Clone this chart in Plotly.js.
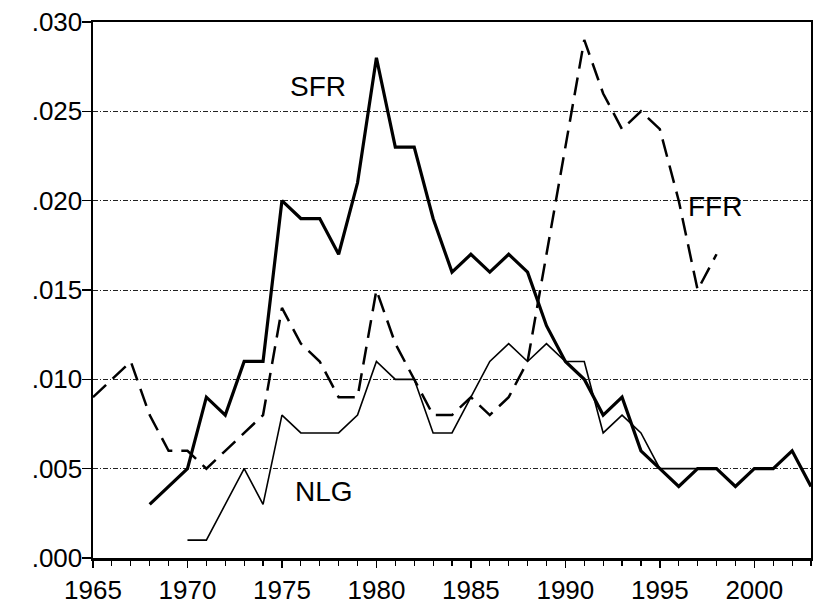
<!DOCTYPE html>
<html>
<head>
<meta charset="utf-8">
<script src="https://cdn.plot.ly/plotly-3.0.1.min.js"></script>
<style>html,body{margin:0;padding:0;background:#fff;}#chart{width:813px;height:605px;}</style>
</head>
<body>
<div id="chart"></div>
<script>
var sfrYears = [1968,1969,1970,1971,1972,1973,1974,1975,1976,1977,1978,1979,1980,1981,1982,1983,1984,1985,1986,1987,1988,1989,1990,1991,1992,1993,1994,1995,1996,1997,1998,1999,2000,2001,2002,2003];
var sfrValues = [0.003,0.004,0.005,0.009,0.008,0.011,0.011,0.020,0.019,0.019,0.017,0.021,0.028,0.023,0.023,0.019,0.016,0.017,0.016,0.017,0.016,0.013,0.011,0.010,0.008,0.009,0.006,0.005,0.004,0.005,0.005,0.004,0.005,0.005,0.006,0.004];

var nlgYears = [1970,1971,1972,1973,1974,1975,1976,1977,1978,1979,1980,1981,1982,1983,1984,1985,1986,1987,1988,1989,1990,1991,1992,1993,1994,1995,1996,1997,1998];
var nlgValues = [0.001,0.001,0.003,0.005,0.003,0.008,0.007,0.007,0.007,0.008,0.011,0.010,0.010,0.007,0.007,0.009,0.011,0.012,0.011,0.012,0.011,0.011,0.007,0.008,0.007,0.005,0.005,0.005,0.005];

var ffrYears = [1965,1966,1967,1968,1969,1970,1971,1972,1973,1974,1975,1976,1977,1978,1979,1980,1981,1982,1983,1984,1985,1986,1987,1988,1989,1990,1991,1992,1993,1994,1995,1996,1997,1998];
var ffrValues = [0.009,0.010,0.011,0.008,0.006,0.006,0.005,0.006,0.007,0.008,0.014,0.012,0.011,0.009,0.009,0.015,0.012,0.010,0.008,0.008,0.009,0.008,0.009,0.011,0.017,0.023,0.029,0.026,0.024,0.025,0.024,0.020,0.015,0.017];

var yTickVals = [0, 0.005, 0.010, 0.015, 0.020, 0.025, 0.030];
var yTickText = [".000", ".005", ".010", ".015", ".020", ".025", ".030"];
var xTickVals = [1965,1970,1975,1980,1985,1990,1995,2000];

var seriesLabels = ["SFR", "FFR", "NLG"];

var font = "Liberation Sans, Arial, Helvetica, sans-serif";

var traces = [
  {x: sfrYears, y: sfrValues, name: "SFR", type: "scatter", mode: "lines",
   line: {color: "#000", width: 3.2}},
  {x: nlgYears, y: nlgValues, name: "NLG", type: "scatter", mode: "lines",
   line: {color: "#000", width: 1.6}},
  {x: ffrYears, y: ffrValues, name: "FFR", type: "scatter", mode: "lines",
   line: {color: "#000", width: 2.5, dash: "18px,9px"}}
];

var layout = {
  width: 813, height: 605,
  margin: {l: 93, r: 2, t: 22, b: 47},
  paper_bgcolor: "#fff", plot_bgcolor: "#fff",
  showlegend: false,
  font: {family: font, size: 26, color: "#000"},
  xaxis: {
    range: [1965, 2003],
    tickvals: xTickVals,
    ticks: "outside", ticklen: 7, tickwidth: 1.5, tickcolor: "#000",
    minor: {dtick: 1, ticks: "outside", ticklen: 5, tickwidth: 1.2, tickcolor: "#000", showgrid: false},
    showgrid: false, zeroline: false,
    showline: true, linecolor: "#000", linewidth: 2.5, mirror: true,
    tickfont: {family: font, size: 26, color: "#000"}
  },
  yaxis: {
    range: [0, 0.030],
    tickvals: yTickVals, ticktext: yTickText,
    ticks: "outside", ticklen: 9, tickwidth: 1.5, tickcolor: "#000",
    ticklabelstandoff: -6,
    showgrid: true, gridcolor: "#222", gridwidth: 1, griddash: "5px,2px,1px,2px",
    zeroline: false,
    showline: true, linecolor: "#000", linewidth: 2.5, mirror: true,
    tickfont: {family: font, size: 26, color: "#000"}
  },
  annotations: [
    {x: 1976.9, y: 0.0264, xref: "x", yref: "y", text: seriesLabels[0], showarrow: false,
     font: {family: font, size: 28, color: "#000"}},
    {x: 1997.9, y: 0.0197, xref: "x", yref: "y", text: seriesLabels[1], showarrow: false,
     font: {family: font, size: 28, color: "#000"}},
    {x: 1977.2, y: 0.0037, xref: "x", yref: "y", text: seriesLabels[2], showarrow: false,
     font: {family: font, size: 28, color: "#000"}}
  ]
};

Plotly.newPlot("chart", traces, layout, {staticPlot: true, displayModeBar: false});
</script>
</body>
</html>
